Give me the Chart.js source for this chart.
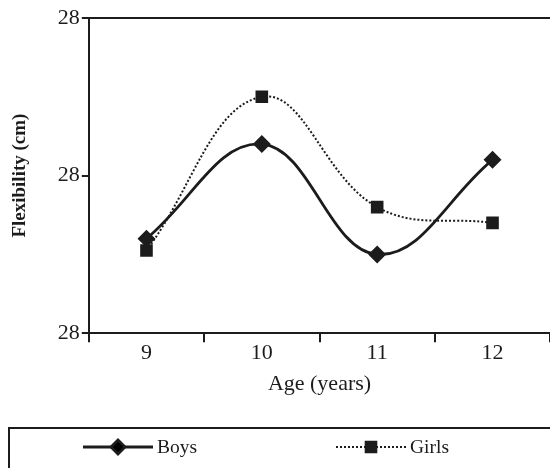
<!DOCTYPE html>
<html lang="en">
<head>
    <meta charset="UTF-8">
    <title>Flexibility by age</title>
    <script src="https://cdn.jsdelivr.net/npm/chart.js"></script>
    <style>
        html, body { margin: 0; padding: 0; background: #fff; overflow: hidden; }
        #wrap { width: 560px; height: 468px; }
    </style>
</head>
<body>
    <div id="wrap">
        <canvas id="flexChart" width="560" height="468"></canvas>
    </div>
    <script>
    // data
    const ages = ['9', '10', '11', '12'];
    const boys = [27.84, 28.08, 27.80, 28.04];
    const girls = [27.81, 28.20, 27.92, 27.88];
    const yMin = 27.6, yMax = 28.4, yStep = 0.4;

    const ink = '#1c1c1c';
    const serif = "'Liberation Serif', 'Times New Roman', serif";

    // legend drawn by hand: line + marker + line, then label, inside a framed box
    const boxLegend = {
        id: 'boxLegend',
        afterDraw(chart) {
            const ctx = chart.ctx;
            ctx.save();
            ctx.strokeStyle = ink;
            ctx.lineWidth = 2;
            ctx.strokeRect(9, 428, 560, 60);

            const itemX = [83, 336];
            const yc = 447;
            chart.data.datasets.forEach(function(ds, i) {
                const x0 = itemX[i], x1 = x0 + 70;
                ctx.beginPath();
                ctx.strokeStyle = ds.borderColor;
                ctx.lineWidth = ds.borderWidth;
                ctx.setLineDash(ds.borderDash || []);
                ctx.moveTo(x0, yc);
                ctx.lineTo(x1, yc);
                ctx.stroke();
                ctx.setLineDash([]);
                Chart.helpers.drawPoint(ctx, {
                    pointStyle: ds.pointStyle,
                    radius: ds.pointRadius,
                    borderWidth: 1
                }, (x0 + x1) / 2, yc);
                ctx.fillStyle = ink;
                ctx.font = '19.5px ' + serif;
                ctx.textBaseline = 'middle';
                ctx.fillText(ds.label, x1 + 4, yc + 1);
            });
            ctx.restore();
        }
    };

    const ctx = document.getElementById('flexChart').getContext('2d');

    const flexChart = new Chart(ctx, {
        type: 'line',
        data: {
            labels: ages,
            datasets: [{
                label: 'Boys',
                data: boys,
                borderColor: ink,
                backgroundColor: ink,
                borderWidth: 2.8,
                tension: 0.4,
                pointStyle: 'rectRot',
                pointRadius: 7,
                pointBorderColor: ink,
                pointBackgroundColor: ink
            }, {
                label: 'Girls',
                data: girls,
                borderColor: ink,
                backgroundColor: ink,
                borderWidth: 2,
                borderDash: [2, 2],
                tension: 0.4,
                pointStyle: 'rect',
                pointRadius: 7.5,
                pointBorderColor: ink,
                pointBackgroundColor: ink
            }]
        },
        options: {
            responsive: false,
            animation: false,
            devicePixelRatio: 1,
            layout: { padding: { top: 18, left: 5, right: 0, bottom: 67 } },
            plugins: {
                legend: { display: false },
                tooltip: { enabled: false }
            },
            scales: {
                x: {
                    offset: true,
                    grid: {
                        offset: true,
                        drawOnChartArea: false,
                        color: ink,
                        tickColor: ink,
                        tickLength: 9,
                        lineWidth: 2
                    },
                    border: { color: ink, width: 2 },
                    ticks: { color: ink, font: { family: serif, size: 22 }, padding: -2 },
                    title: {
                        display: true,
                        text: 'Age (years)',
                        color: ink,
                        font: { family: serif, size: 22 },
                        padding: { top: 6 }
                    }
                },
                y: {
                    min: yMin,
                    max: yMax,
                    grid: {
                        color: function(c) { return c.index === 2 ? ink : 'rgba(0,0,0,0)'; },
                        tickColor: ink,
                        tickLength: 7,
                        lineWidth: 2
                    },
                    border: { color: ink, width: 2 },
                    ticks: {
                        stepSize: yStep,
                        color: ink,
                        font: { family: serif, size: 22 },
                        padding: 2,
                        callback: function(v) { return Number(v).toFixed(0); }
                    },
                    title: {
                        display: true,
                        text: 'Flexibility (cm)',
                        color: ink,
                        font: { family: serif, size: 19, weight: 'bold' },
                        padding: { bottom: 24 }
                    }
                }
            }
        },
        plugins: [boxLegend]
    });
    </script>
</body>
</html>
